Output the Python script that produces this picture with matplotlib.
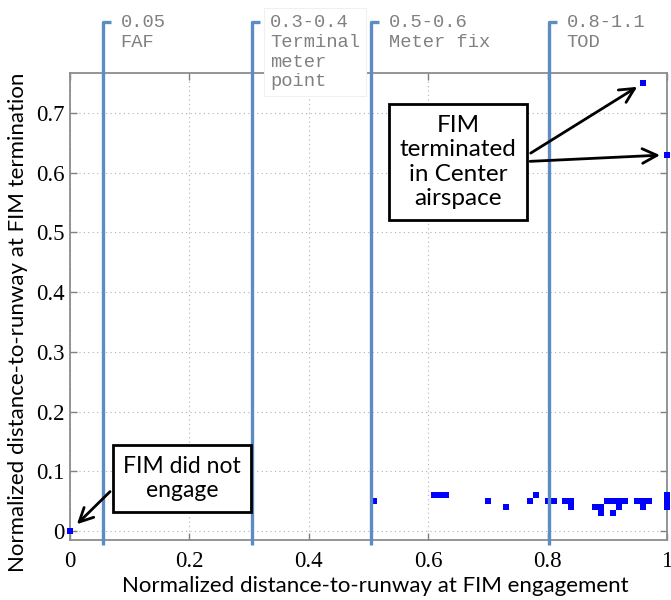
import matplotlib
matplotlib.use('Agg')
import matplotlib.pyplot as plt

# Normalized distance-to-runway at FIM engagement (x) and termination (y)
engage_dist = [0.00, 0.51, 0.61, 0.62, 0.63, 0.70, 0.73, 0.77, 0.78,
               0.80, 0.81, 0.83, 0.84, 0.84,
               0.88, 0.89, 0.89, 0.90, 0.91, 0.91, 0.92, 0.92, 0.93,
               0.95, 0.96, 0.96, 0.97, 1.00, 1.00, 1.00,
               0.96, 1.00]
term_dist = [0.00, 0.05, 0.06, 0.06, 0.06, 0.05, 0.04, 0.05, 0.06,
             0.05, 0.05, 0.05, 0.05, 0.04,
             0.04, 0.04, 0.03, 0.05, 0.05, 0.03, 0.05, 0.04, 0.05,
             0.05, 0.05, 0.04, 0.05, 0.04, 0.05, 0.06,
             0.75, 0.63]

# Reference locations along the arrival (vertical markers)
zone_x = [0.055, 0.305, 0.504, 0.802]
zone_labels = ['0.05\nFAF', '0.3-0.4\nTerminal\nmeter\npoint',
               '0.5-0.6\nMeter fix', '0.8-1.1\nTOD']

xticks = [0, 0.2, 0.4, 0.6, 0.8, 1]
xticklabels = ['0', '0.2', '0.4', '0.6', '0.8', '1']
yticks = [0, 0.1, 0.2, 0.3, 0.4, 0.5, 0.6, 0.7]
yticklabels = ['0', '0.1', '0.2', '0.3', '0.4', '0.5', '0.6', '0.7']

sans = ['Lato', 'DejaVu Sans']
fig = plt.figure(figsize=(6.71, 6.0), dpi=100)
ax = fig.add_axes([0.1043, 0.1, 0.8897, 0.7783])

ax.plot(engage_dist, term_dist, linestyle='none', marker='s', markersize=4.3,
        color='#0000ff', markeredgewidth=0, zorder=3, clip_on=False)

ax.set_xlim(0, 1)
ax.set_ylim(-0.015, 0.767)
ax.set_xticks(xticks)
ax.set_xticklabels(xticklabels)
ax.set_yticks(yticks)
ax.set_yticklabels(yticklabels)
ax.tick_params(direction='in', top=True, right=True, length=5, width=1,
               color='#808080', labelsize=16.5,
               labelfontfamily='Liberation Serif')
ax.tick_params(axis='x', pad=8)
ax.tick_params(axis='y', pad=4)
for sp in ax.spines.values():
    sp.set_color('#8c8c8c')
    sp.set_linewidth(1.3)
ax.grid(True, linestyle=(0, (1, 3)), color='#b0b0b0', linewidth=0.8)

ax.set_xlabel('Normalized distance-to-runway at FIM engagement',
              family=sans, fontsize=16)
ax.set_ylabel('Normalized distance-to-runway at FIM termination',
              family=sans, fontsize=16)
ax.xaxis.set_label_coords(0.511, -0.078)
ax.yaxis.set_label_coords(-0.07, 0.467)

# zone marker lines with small hook at top, extending past the axes
y_lo, y_hi = -0.0235, 0.853
for i, (zx, zl) in enumerate(zip(zone_x, zone_labels)):
    ax.plot([zx, zx, zx + 0.014], [y_lo, y_hi, y_hi], color='#5b8cc4',
            linewidth=2.4, clip_on=False, zorder=6, solid_capstyle='butt')
    bb = None
    if i == 1:
        bb = dict(boxstyle='square,pad=0.3', fc='white', ec='#f0f0f0', lw=0.8)
    ax.text(zx + 0.030, 0.866, zl, family='Liberation Mono', fontsize=13.5,
            color='#808080', va='top', ha='left', linespacing=1.22,
            bbox=bb, zorder=5, clip_on=False)

box = dict(boxstyle='square,pad=0.45', fc='white', ec='black', lw=2)
arrow = dict(arrowstyle='->,head_length=0.6,head_width=0.3', color='black',
             lw=2, shrinkB=7)

ax.annotate('FIM did not\nengage', xy=(engage_dist[0], term_dist[0]),
            xytext=(0.188, 0.088), ha='center', va='center',
            family=sans, fontsize=16.5, bbox=box, zorder=7,
            arrowprops=dict(arrow, relpos=(0, 0.5)))

center_txt = 'FIM\nterminated\nin Center\nairspace'
ax.annotate(center_txt, xy=(engage_dist[-2], term_dist[-2]),
            xytext=(0.650, 0.618), ha='center', va='center',
            family=sans, fontsize=17.5, bbox=box, zorder=7,
            arrowprops=dict(arrow, relpos=(1, 0.5), shrinkB=5))
ax.annotate(center_txt, xy=(engage_dist[-1], term_dist[-1]),
            xytext=(0.650, 0.618), ha='center', va='center',
            family=sans, fontsize=17.5, color='none', zorder=7,
            bbox=dict(box, fc='none', ec='none'),
            arrowprops=dict(arrow, relpos=(1, 0.5), shrinkB=5))

fig.savefig('out.png', dpi=100)
